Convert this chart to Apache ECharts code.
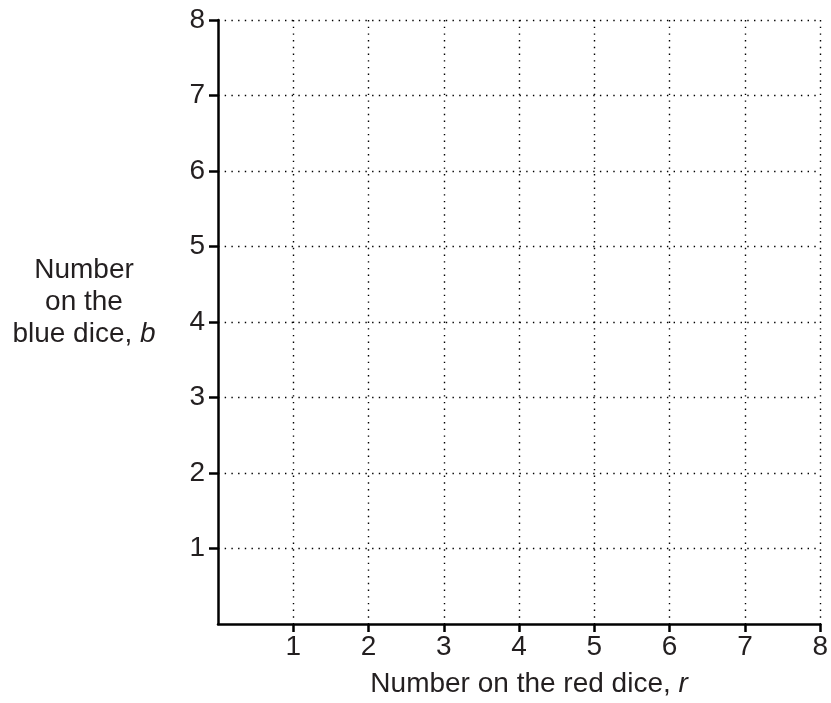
<!DOCTYPE html>
<html>
<head>
<meta charset="utf-8">
<script src="https://cdn.jsdelivr.net/npm/echarts@6/dist/echarts.min.js"></script>
<style>html,body{margin:0;padding:0;background:#fff;}#chart{width:831px;height:703px;}</style>
</head>
<body>
<div id="chart"></div>
<script>
const xTicks = [1, 2, 3, 4, 5, 6, 7, 8];
const yTicks = [1, 2, 3, 4, 5, 6, 7, 8];
const xName = 'Number on the red dice, ';
const xVar = 'r';
const yNameLines = ['Number', 'on the', 'blue dice, '];
const yVar = 'b';
const points = [];

const font = 'Liberation Sans, Arial, Helvetica, sans-serif';
const ink = '#231f20';
const chart = echarts.init(document.getElementById('chart'));
chart.setOption({
  animation: false,
  grid: { left: 218, right: 8, top: 20, bottom: 77 },
  xAxis: {
    type: 'value', min: 0, max: 8, interval: 1,
    name: '{n|' + xName + '}{i|' + xVar + '}',
    nameLocation: 'middle', nameGap: 46,
    nameTextStyle: {
      padding: [0, 0, 0, 20],
      rich: {
        n: { fontFamily: font, fontSize: 28, color: ink },
        i: { fontFamily: font, fontSize: 28, color: ink, fontStyle: 'italic' }
      }
    },
    axisLine: { show: true, onZero: false, lineStyle: { color: '#000', width: 2.5 } },
    axisTick: { show: true, length: 8, customValues: xTicks, lineStyle: { color: '#000', width: 2.5 } },
    axisLabel: { customValues: xTicks, margin: 9, fontFamily: font, fontSize: 28, color: ink },
    splitLine: { show: true, lineStyle: { color: '#000', width: 1.4, type: [1.4, 5.3] } }
  },
  yAxis: {
    type: 'value', min: 0, max: 8, interval: 1,
    name: '{n|' + yNameLines[0] + '}\n{n|' + yNameLines[1] + '}\n{n|' + yNameLines[2] + '}{i|' + yVar + '}',
    nameLocation: 'middle', nameRotate: 0, nameGap: 134,
    nameTextStyle: {
      align: 'center',
      padding: [0, 0, 40, 0],
      rich: {
        n: { fontFamily: font, fontSize: 28, color: ink, lineHeight: 32, align: 'center' },
        i: { fontFamily: font, fontSize: 28, color: ink, lineHeight: 32, fontStyle: 'italic' }
      }
    },
    axisLine: { show: true, onZero: false, lineStyle: { color: '#000', width: 2.5 } },
    axisTick: { show: true, length: 9, customValues: yTicks, lineStyle: { color: '#000', width: 2.5 } },
    axisLabel: { customValues: yTicks, margin: 13, fontFamily: font, fontSize: 28, color: ink },
    splitLine: { show: true, lineStyle: { color: '#000', width: 1.4, type: [1.4, 5.3] } }
  },
  series: [{ type: 'scatter', data: points }]
});
</script>
</body>
</html>
